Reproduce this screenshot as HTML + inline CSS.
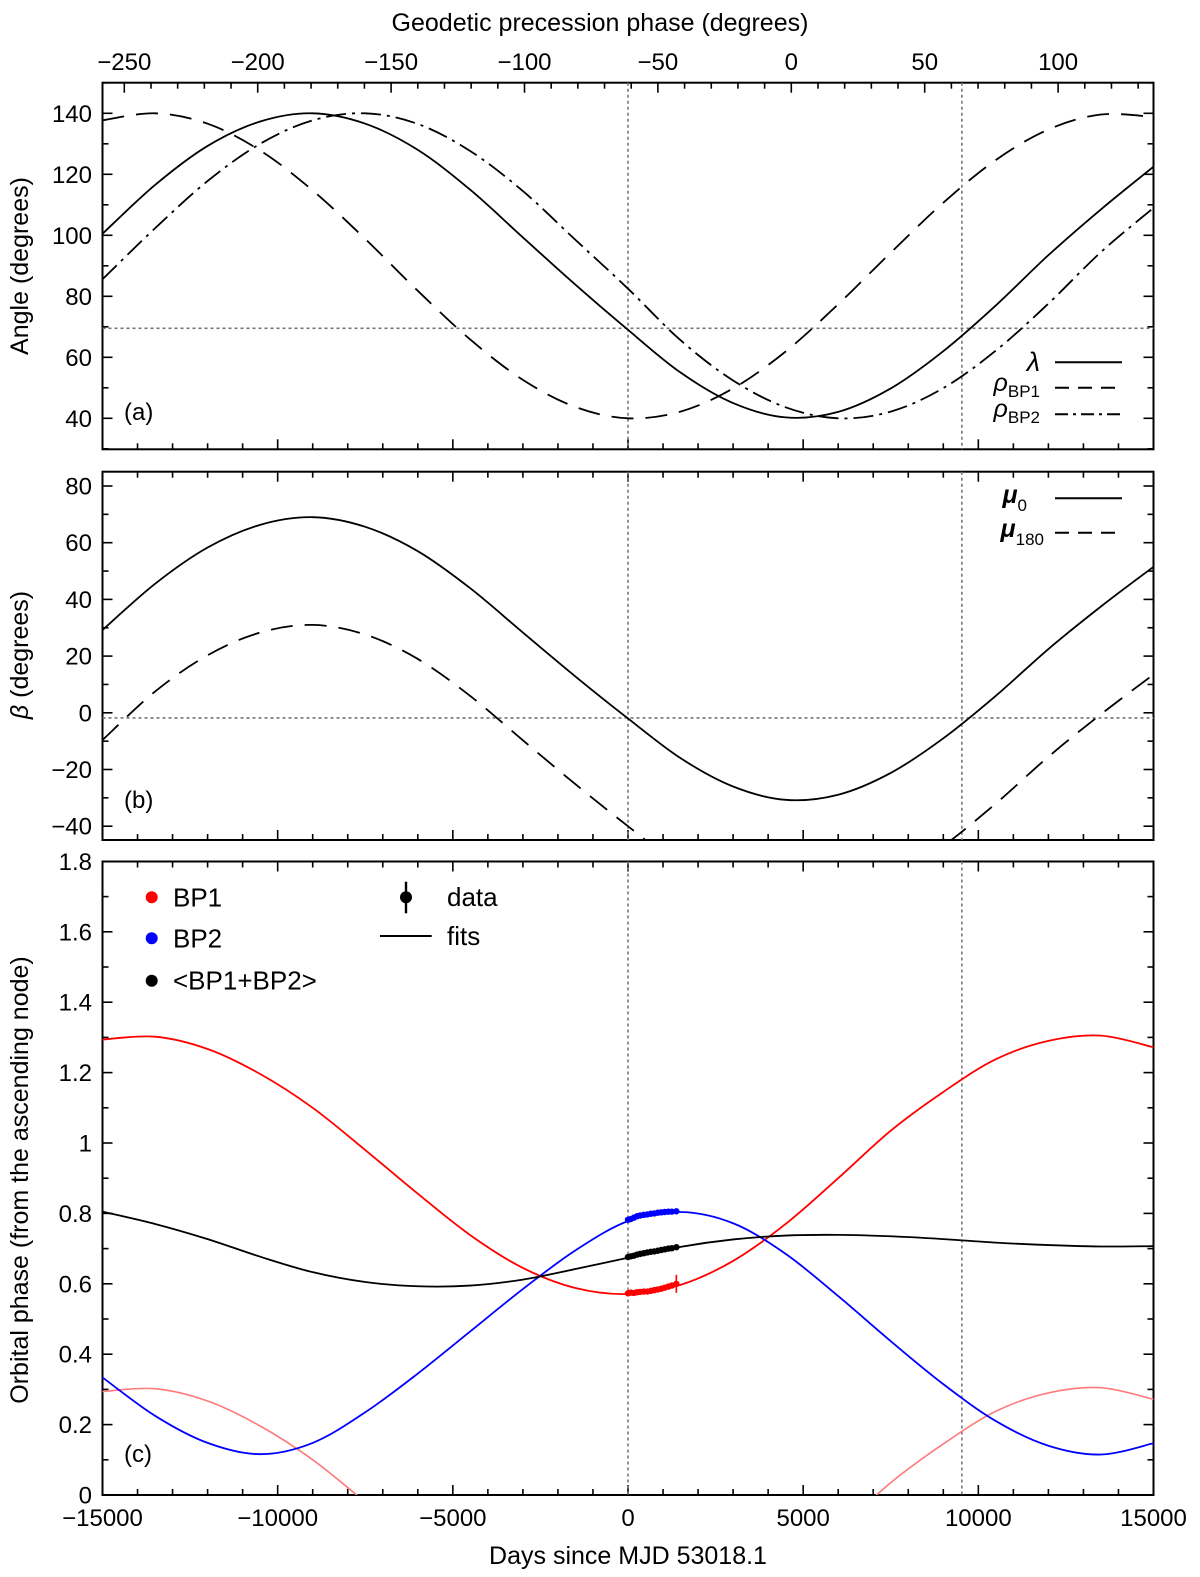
<!DOCTYPE html>
<html><head><meta charset="utf-8">
<style>
html,body{margin:0;padding:0;background:#fff;}
svg{display:block;font-family:"Liberation Sans",Arial,sans-serif;}
</style></head>
<body>
<svg id="fig" width="1200" height="1577" viewBox="0 0 1200 1577" xmlns="http://www.w3.org/2000/svg">
<defs>
<clipPath id="clipA"><rect x="102.5" y="82.7" width="1051" height="366.6"/></clipPath>
<clipPath id="clipB"><rect x="102.5" y="471.7" width="1051" height="368.3"/></clipPath>
<clipPath id="clipC"><rect x="102.5" y="861.5" width="1051" height="633.5"/></clipPath>
</defs>
<g id="root"></g>
</svg>
<script>
// ---- data ----
const days = [-15000,-13500,-12000,-10500,-9000,-7500,-6000,-4500,-3000,-1500,0,1500,3000,4500,6000,7500,9000,10500,12000,13500,15000];
const lambdaVals = [100.5,116.5,129.3,137.3,140.0,136.6,128.0,114.9,99.3,83.8,69,55,45,40.3,42.1,49.8,62,77,93.5,108.5,122.5];
const rhoBP1Vals = [137.7,140,136.6,127.8,114.7,98.8,81.8,65.8,52.6,43.7,40.0,42.2,49.8,61.9,77.4,94.3,110.7,124.7,134.7,139.6,138.8];
const rhoBP2Vals = [85.6,102.3,117.8,130.0,137.7,140.0,136.5,127.6,114.5,98.5,82.5,65.6,52.4,43.6,40.0,42.2,49.9,62.2,77.6,94.5,109];
const mu0Vals = [29.2,45.5,58.3,66.3,69,65.6,57,43.9,28.3,12.8,-2,-16,-26,-30.7,-28.9,-21.2,-9,6,22.5,37.5,51.5];
const mu180Vals = [-9.6,7.5,20.3,28.3,31,27.6,19,5.9,-9.7,-25.2,-40,-54,-64,-68.7,-66.9,-59.2,-47,-32,-15.5,-0.5,13.5];
const bp1Vals = [1.294,1.302,1.267,1.196,1.100,0.980,0.856,0.738,0.645,0.588,0.571,0.597,0.665,0.770,0.900,1.035,1.145,1.238,1.290,1.305,1.272];
const bp2Vals = [0.334,0.225,0.148,0.116,0.148,0.235,0.345,0.465,0.585,0.695,0.778,0.804,0.772,0.685,0.565,0.437,0.315,0.21,0.14,0.115,0.147];
const meanVals = [0.805,0.770,0.727,0.677,0.633,0.605,0.593,0.595,0.612,0.642,0.674,0.705,0.726,0.737,0.739,0.735,0.727,0.717,0.710,0.706,0.707];
const obsDays = [0,80,170,260,350,450,550,650,750,850,950,1050,1150,1250,1380];
const obsBP1 = [0.573,0.575,0.574,0.576,0.577,0.578,0.578,0.580,0.582,0.584,0.586,0.589,0.592,0.595,0.600];
const obsBP2 = [0.782,0.784,0.788,0.792,0.794,0.796,0.797,0.799,0.800,0.802,0.803,0.804,0.805,0.805,0.806];
const obsMean = [0.676,0.678,0.680,0.683,0.685,0.687,0.689,0.691,0.692,0.694,0.696,0.698,0.700,0.701,0.704];
const dayTicks = [-15000,-10000,-5000,0,5000,10000,15000];
const dayTickLabels = ["\u221215000","\u221210000","\u22125000","0","5000","10000","15000"];
const phaseTicks = [-250,-200,-150,-100,-50,0,50,100];
const aTicks = [40,60,80,100,120,140];
const bTicks = [-40,-20,0,20,40,60,80];
const cTicks = [0,0.2,0.4,0.6,0.8,1,1.2,1.4,1.6,1.8];
const refDays = [0,9530];
const lambdaRef = 69.5;
const betaRef = -1.8;

// ---- scales ----
const X0=102.5, X1=1153.5;
const xd = d => X0 + (d+15000)/30000*(X1-X0);
const xp = p => 791.3 + p*2.668;
const yA = v => 113.3 + (140-v)*3.05;
const yB = v => 486 + (80-v)*2.835;
const yC = v => 1495 - v*352;
const PA={top:82.7,bot:449.3}, PB={top:471.7,bot:840}, PC={top:861.5,bot:1495};

const NS="http://www.w3.org/2000/svg";
const root=document.getElementById('root');
function mk(tag,attrs,parent){const e=document.createElementNS(NS,tag);for(const k in attrs)e.setAttribute(k,attrs[k]);(parent||root).appendChild(e);return e;}
function txt(s,x,y,size,anchor,parent,extra){const t=mk('text',Object.assign({x:x,y:y,'font-size':size,'text-anchor':anchor||'middle',fill:'#000'},extra||{}),parent);t.textContent=s;return t;}
function smooth(pts){let d='M'+pts[0][0].toFixed(2)+','+pts[0][1].toFixed(2);
 for(let i=0;i<pts.length-1;i++){const p0=pts[i-1]||pts[i],p1=pts[i],p2=pts[i+1],p3=pts[i+2]||p2;
  const c1=[p1[0]+(p2[0]-p0[0])/6,p1[1]+(p2[1]-p0[1])/6],c2=[p2[0]-(p3[0]-p1[0])/6,p2[1]-(p3[1]-p1[1])/6];
  d+='C'+c1[0].toFixed(2)+','+c1[1].toFixed(2)+' '+c2[0].toFixed(2)+','+c2[1].toFixed(2)+' '+p2[0].toFixed(2)+','+p2[1].toFixed(2);}
 return d;}
function curve(vals,ys,clip,stroke,dash,w,name){
 const pts=days.map((d,i)=>[xd(d),ys(vals[i])]);
 const p=mk('path',{d:smooth(pts),fill:'none',stroke:stroke,'stroke-width':w||1.8,'stroke-dasharray':dash||'none','clip-path':'url(#'+clip+')'});
 
 
 return p;}

function frame(P,name){
 const r=mk('rect',{x:X0,y:P.top,width:X1-X0,height:P.bot-P.top,fill:'none',stroke:'#000','stroke-width':2});
 
 
 for(let d=-15000;d<=15000;d+=1000){const x=xd(d),L=(d%5000===0)?10:6;
  mk('line',{x1:x,x2:x,y1:P.bot,y2:P.bot-L,stroke:'#000','stroke-width':1.6});
  if(P!==PA) mk('line',{x1:x,x2:x,y1:P.top,y2:P.top+L,stroke:'#000','stroke-width':1.6});}
}
function yticks(P,ys,lo,hi,minor,major,labels,fmt){
 for(let v=lo;v<=hi+1e-9;v+=minor){const y=ys(v);if(y<P.top-0.5||y>P.bot+0.5)continue;
  const isMaj=Math.abs(v/major-Math.round(v/major))<1e-6,L=isMaj?10:6;
  mk('line',{x1:X0,x2:X0+L,y1:y,y2:y,stroke:'#000','stroke-width':1.6});
  mk('line',{x1:X1,x2:X1-L,y1:y,y2:y,stroke:'#000','stroke-width':1.6});}
 labels.forEach(v=>{const t=txt(fmt(v),92,ys(v)+8.5,24,'end');
  
  });
}
const fmtInt=v=>v<0?'\u2212'+Math.abs(v):String(v);

frame(PA,'panel-a-frame');frame(PB,'panel-b-frame');frame(PC,'panel-c-frame');
for(let p=-250;p<=130;p+=10){const x=xp(p);if(x<X0||x>X1)continue;const L=(p%50===0)?10:6;
 mk('line',{x1:x,x2:x,y1:PA.top,y2:PA.top+L,stroke:'#000','stroke-width':1.6});}
phaseTicks.forEach(p=>{const t=txt(fmtInt(p),xp(p),70,24,'middle');
 
 });
const tt=txt('Geodetic precession phase (degrees)',600,31,25,'middle');


dayTicks.forEach((d,i)=>{const t=txt(dayTickLabels[i],xd(d),1526,24,'middle');
 
 });
const xt=txt('Days since MJD 53018.1',628,1564,25,'middle');



yticks(PA,yA,30,150,10,20,aTicks,fmtInt);
yticks(PB,yB,-40,80,10,20,bTicks,fmtInt);
yticks(PC,yC,0,1.8,0.1,0.2,cTicks,v=>String(Math.round(v*10)/10));

function ytitle(s,cy,name,html){const g=mk('text',{x:0,y:0,'font-size':25,'text-anchor':'middle',transform:'translate(28,'+cy+') rotate(-90)'});
 if(html){g.innerHTML=s;}else g.textContent=s;
 
 }
ytitle('Angle (degrees)',266,'y-axis-title-a');
ytitle('<tspan font-style="italic">β</tspan> (degrees)',655,'y-axis-title-b',true);
ytitle('Orbital phase (from the ascending node)',1180,'y-axis-title-c');

[[PA,'clipA'],[PB,'clipB'],[PC,'clipC']].forEach(([P,c])=>{refDays.forEach(d=>{
 const l=mk('line',{x1:xd(d),x2:xd(d),y1:P.top,y2:P.bot,stroke:'#777','stroke-width':1.6,'stroke-dasharray':'3,3'});
 
 });});
const h1=mk('line',{x1:X0,x2:X1,y1:yA(lambdaRef),y2:yA(lambdaRef),stroke:'#777','stroke-width':1.6,'stroke-dasharray':'3,3'});


const h2=mk('line',{x1:X0,x2:X1,y1:yB(betaRef),y2:yB(betaRef),stroke:'#777','stroke-width':1.6,'stroke-dasharray':'3,3'});



curve(lambdaVals,yA,'clipA','#000',null,1.8,'lambda-curve');
curve(rhoBP1Vals,yA,'clipA','#000','22,12',1.8,'rho-bp1-curve');
curve(rhoBP2Vals,yA,'clipA','#000','20,6,3,6',1.8,'rho-bp2-curve');
curve(mu0Vals,yB,'clipB','#000',null,1.8,'mu0-curve');
curve(mu180Vals,yB,'clipB','#000','22,12',1.8,'mu180-curve');
curve(bp1Vals.map(v=>v-1),yC,'clipC','#ff7b7b',null,1.6,'bp1-wrapped-curve');
curve(bp1Vals,yC,'clipC','#ff0000',null,1.8,'bp1-fit-curve');
curve(bp2Vals,yC,'clipC','#0000ff',null,1.8,'bp2-fit-curve');
curve(meanVals,yC,'clipC','#000',null,1.8,'mean-fit-curve');
[[obsBP1,'#ff0000','bp1-data-point'],[obsBP2,'#0000ff','bp2-data-point'],[obsMean,'#000','mean-data-point']].forEach(([arr,col,name])=>{
 obsDays.forEach((d,i)=>{const c=mk('circle',{cx:xd(d),cy:yC(arr[i]),r:3.2,fill:col});
  
  });});
const eb=mk('line',{x1:xd(obsDays[obsDays.length-1]),x2:xd(obsDays[obsDays.length-1]),y1:yC(obsBP1[obsBP1.length-1])-9,y2:yC(obsBP1[obsBP1.length-1])+9,stroke:'#ff0000','stroke-width':1.6});



[['(a)',420,'panel-a-label'],['(b)',808,'panel-b-label'],['(c)',1462,'panel-c-label']].forEach(([s,y,n])=>{
 const t=txt(s,124,y,24,'start');
 
 });

function legLine(x1,x2,y,dash,name){const l=mk('line',{x1:x1,x2:x2,y1:y,y2:y,stroke:'#000','stroke-width':2,'stroke-dasharray':dash||'none'});
 
 }
function legText(html,x,y,anchor,name,size){const t=mk('text',{x:x,y:y,'font-size':size||25,'text-anchor':anchor});t.innerHTML=html;
 
 }
legLine(1055,1122,362.3,null,'legend-lambda-line');
legText('<tspan font-style="italic">λ</tspan>',1040,371,'end','legend-lambda-label',27);
legLine(1055,1122,387.7,'14,9','legend-rho-bp1-line');
legText('<tspan font-style="italic">ρ</tspan><tspan font-size="17" dy="6">BP1</tspan>',1040,391,'end','legend-rho-bp1-label');
legLine(1055,1122,414.3,'13,5,3,5','legend-rho-bp2-line');
legText('<tspan font-style="italic">ρ</tspan><tspan font-size="17" dy="6">BP2</tspan>',1040,417,'end','legend-rho-bp2-label');
legLine(1055,1122,498.3,null,'legend-mu0-line');
legText('<tspan font-style="italic" font-weight="bold">μ</tspan><tspan font-size="17" dy="8">0</tspan>',1027,503,'end','legend-mu0-label');
legLine(1055,1122,532.7,'14,9','legend-mu180-line');
legText('<tspan font-style="italic" font-weight="bold">μ</tspan><tspan font-size="17" dy="8">180</tspan>',1044,537,'end','legend-mu180-label');
[['#ff0000','BP1',897.3,'legend-bp1'],['#0000ff','BP2',938.3,'legend-bp2'],['#000','&lt;BP1+BP2&gt;',980.7,'legend-mean']].forEach(([c,s,y,n])=>{
 const d=mk('circle',{cx:151.7,cy:y,r:6,fill:c});
 
 
 legText(s,173,y+9,'start',n+'-label',26);});
const ld=mk('circle',{cx:406,cy:897.3,r:6,fill:'#000'});


const le=mk('line',{x1:406,x2:406,y1:881.7,y2:913.3,stroke:'#000','stroke-width':2.4});


legText('data',447,906,'start','legend-data-label',26);
legLine(380,431.7,936,null,'legend-fits-line');
legText('fits',447,945,'start','legend-fits-label',26);
</script>
</body></html>
